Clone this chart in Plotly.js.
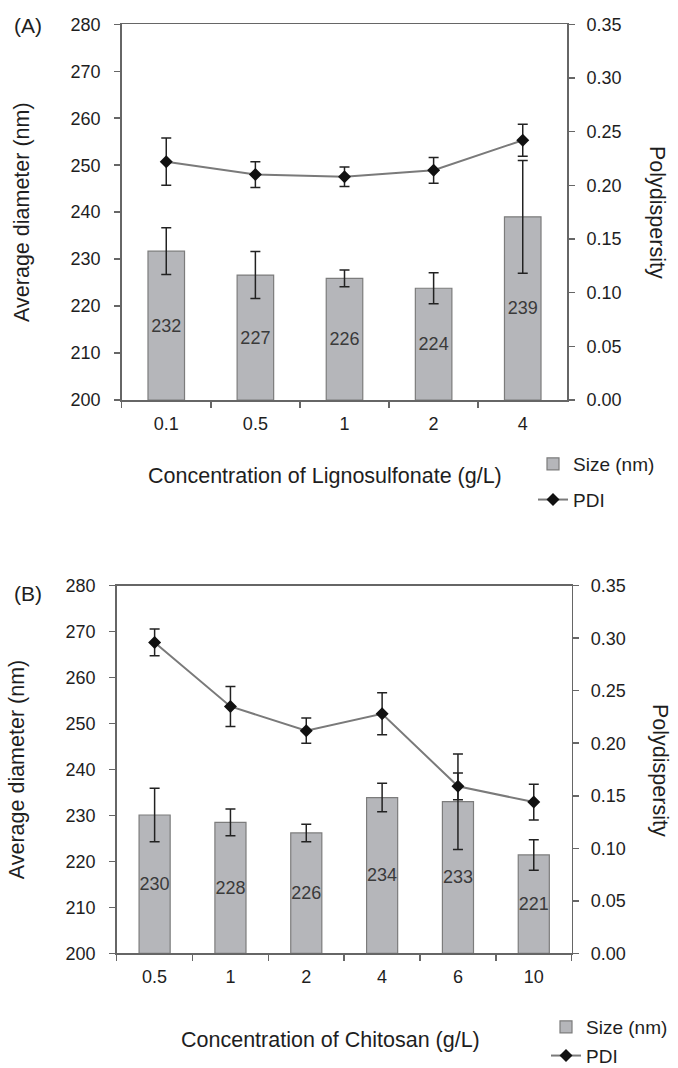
<!DOCTYPE html>
<html><head><meta charset="utf-8">
<script src="https://cdn.plot.ly/plotly-3.0.1.min.js"></script>
<style>html,body{margin:0;padding:0;background:#fff}#chart{width:678px;height:1068px}</style>
</head><body><div id="chart"></div>
<script>
// ---- Panel A: Lignosulfonate ----
const catsA = ['0.1', '0.5', '1', '2', '4'];
const sizeA = [231.7, 226.6, 225.9, 223.8, 239.0];
const sizeErrA = [5.0, 5.0, 1.8, 3.3, 12.0];
const sizeLabelsA = ['232', '227', '226', '224', '239'];
const pdiA = [0.222, 0.210, 0.208, 0.214, 0.242];
const pdiErrA = [0.022, 0.012, 0.009, 0.012, 0.015];

// ---- Panel B: Chitosan ----
const catsB = ['0.5', '1', '2', '4', '6', '10'];
const sizeB = [230.1, 228.5, 226.2, 233.9, 233.0, 221.4];
const sizeErrB = [5.8, 2.9, 1.9, 3.1, 10.4, 3.3];
const sizeLabelsB = ['230', '228', '226', '234', '233', '221'];
const pdiB = [0.296, 0.235, 0.212, 0.228, 0.159, 0.144];
const pdiErrB = [0.0127, 0.019, 0.012, 0.020, 0.0127, 0.017];

const sizeRange = [200, 280];
const pdiRange = [0, 0.35];

const W = 678, H = 1068;
const px = x => x / W;
const py = y => 1 - y / H;
const FONT = 'Liberation Sans, Arial, sans-serif';
const TXT = '#1e1e1e';
const AX = '#666666';

function barTrace(cats, vals, errs, labels, xa, ya, legend, group) {
  return {
    type: 'bar', x: cats, y: vals.map(v => v - sizeRange[0]), base: sizeRange[0],
    xaxis: xa, yaxis: ya, name: 'Size (nm)', legend: legend, legendgroup: group,
    width: 0.41,
    marker: {color: '#b5b6ba', line: {color: '#7c7c7c', width: 1.2}},
    text: labels, textposition: 'inside', insidetextanchor: 'middle', textangle: 0,
    constraintext: 'none',
    insidetextfont: {family: FONT, size: 18, color: '#3a3a3a'},
    error_y: {type: 'data', array: errs, visible: true, color: '#222', thickness: 1.5, width: 5},
    hoverinfo: 'skip'
  };
}
function pdiTrace(cats, vals, errs, xa, ya, legend, group) {
  return {
    type: 'scatter', mode: 'lines+markers', x: cats, y: vals,
    xaxis: xa, yaxis: ya, name: 'PDI', legend: legend, legendgroup: group,
    line: {color: '#7a7a7a', width: 2},
    marker: {symbol: 'diamond', size: 10, color: '#111111'},
    error_y: {type: 'data', array: errs, visible: true, color: '#222', thickness: 1.5, width: 5},
    hoverinfo: 'skip'
  };
}

const data = [
  barTrace(catsA, sizeA, sizeErrA, sizeLabelsA, 'x', 'y', 'legend', 'a1'),
  pdiTrace(catsA, pdiA, pdiErrA, 'x', 'y2', 'legend', 'a2'),
  barTrace(catsB, sizeB, sizeErrB, sizeLabelsB, 'x2', 'y3', 'legend2', 'b1'),
  pdiTrace(catsB, pdiB, pdiErrB, 'x2', 'y4', 'legend2', 'b2')
];

const tickFont = {family: FONT, size: 18, color: TXT};
function xAxis(domain, anchor) {
  return {domain: domain, anchor: anchor, type: 'category', tickson: 'boundaries',
    ticks: 'outside', ticklen: 6, tickwidth: 1.5, tickcolor: AX,
    showline: true, mirror: true, linecolor: AX, linewidth: 1.5,
    showgrid: false, zeroline: false, tickfont: tickFont, ticklabelstandoff: 7,
    fixedrange: true};
}
function yLeft(domain, anchor) {
  return {domain: domain, anchor: anchor, range: sizeRange, dtick: 10, tick0: 200,
    ticks: 'outside', ticklen: 6, tickwidth: 1.5, tickcolor: AX,
    showline: true, linecolor: AX, linewidth: 1.5, showgrid: false, zeroline: false,
    tickfont: tickFont, ticklabelstandoff: 10,
    title: {text: 'Average diameter (nm)', font: {family: FONT, size: 21.5, color: TXT}, standoff: 35},
    fixedrange: true};
}
function yRight(over, anchor) {
  return {overlaying: over, side: 'right', anchor: anchor, range: pdiRange, dtick: 0.05, tick0: 0,
    tickformat: '.2f', ticks: 'outside', ticklen: 6, tickwidth: 1.5, tickcolor: AX,
    showline: true, linecolor: AX, linewidth: 1.5, showgrid: false, zeroline: false,
    tickfont: tickFont, ticklabelstandoff: 8, fixedrange: true};
}

const titleFont = {family: FONT, size: 21.5, color: TXT};
const layout = {
  width: W, height: H, margin: {l: 0, r: 0, t: 0, b: 0, autoexpand: false},
  paper_bgcolor: '#ffffff', plot_bgcolor: '#ffffff',
  font: {family: FONT, color: TXT},
  barmode: 'overlay',
  xaxis: xAxis([px(121.7), px(567.3)], 'y'),
  yaxis: yLeft([py(400), py(24.3)], 'x'),
  yaxis2: yRight('y', 'x'),
  xaxis2: xAxis([px(116.7), px(571.7)], 'y3'),
  yaxis3: yLeft([py(953.3), py(585.7)], 'x2'),
  yaxis4: yRight('y3', 'x2'),
  showlegend: true,
  legend: {x: px(533), y: py(445), xanchor: 'left', yanchor: 'top', traceorder: 'grouped',
    tracegroupgap: 8, bgcolor: 'rgba(0,0,0,0)', font: {family: FONT, size: 19, color: TXT}},
  legend2: {x: px(546), y: py(1008), xanchor: 'left', yanchor: 'top', traceorder: 'grouped',
    tracegroupgap: 1, bgcolor: 'rgba(0,0,0,0)', font: {family: FONT, size: 19, color: TXT}},
  annotations: [
    {text: '(A)', x: px(12), y: py(25), xref: 'paper', yref: 'paper', xanchor: 'left', yanchor: 'middle', showarrow: false, font: {family: FONT, size: 21, color: TXT}},
    {text: '(B)', x: px(12), y: py(593), xref: 'paper', yref: 'paper', xanchor: 'left', yanchor: 'middle', showarrow: false, font: {family: FONT, size: 21, color: TXT}},
    {text: 'Concentration of Lignosulfonate (g/L)', x: px(325), y: py(476), xref: 'paper', yref: 'paper', xanchor: 'center', yanchor: 'middle', showarrow: false, font: titleFont},
    {text: 'Concentration of Chitosan (g/L)', x: px(330), y: py(1040), xref: 'paper', yref: 'paper', xanchor: 'center', yanchor: 'middle', showarrow: false, font: titleFont},
    {text: 'Polydispersity', x: px(657), y: py(212), xref: 'paper', yref: 'paper', xanchor: 'center', yanchor: 'middle', textangle: 90, showarrow: false, font: titleFont},
    {text: 'Polydispersity', x: px(660), y: py(770), xref: 'paper', yref: 'paper', xanchor: 'center', yanchor: 'middle', textangle: 90, showarrow: false, font: titleFont}
  ]
};

Plotly.newPlot('chart', data, layout, {displayModeBar: false, staticPlot: true});
</script>
</body></html>
